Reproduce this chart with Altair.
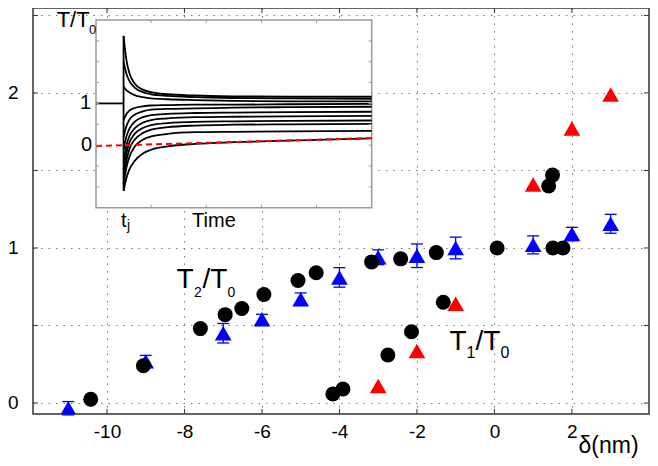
import altair as alt
import pandas as pd

FONT = "Liberation Sans"

# ---------------- main panel data ----------------
circle_x = [-10.42, -9.06, -7.59, -6.95, -6.52, -5.95, -5.07, -4.60, -4.17, -3.91,
            -3.17, -2.75, -2.42, -2.14, -1.50, -1.32, 0.07, 1.40, 1.50, 1.51, 1.77]
circle_y = [0.024, 0.24, 0.48, 0.57, 0.61, 0.70, 0.79, 0.84, 0.058, 0.09,
            0.91, 0.31, 0.93, 0.46, 0.97, 0.65, 1.00, 1.40, 1.47, 1.00, 1.00]

red_x = [-3, -2, -1, 1, 2, 3]
red_y = [0.11, 0.335, 0.64, 1.41, 1.77, 1.99]

blue_x = [-11, -9, -7, -6, -5, -4, -3, -2, -1, 1, 2, 3]
blue_y = [-0.034, 0.27, 0.45, 0.54, 0.67, 0.81, 0.94, 0.95, 1.0, 1.02, 1.09, 1.156]
blue_err = [0.043, 0.037, 0.063, 0.032, 0.04, 0.063, 0.048, 0.076, 0.07, 0.058, 0.043, 0.061]

x_ticks = [-10, -8, -6, -4, -2, 0, 2]
y_ticks = [0, 0.5, 1, 1.5, 2, 2.5]

# ---------------- inset data ----------------
inset_t = [0.5, 0.55, 0.6, 0.7, 0.85, 1.0, 1.3, 1.8, 2.5, 3.5, 5.0]
inset_curves = {
    "U1": [2.62, 2.05, 1.75, 1.48, 1.33, 1.27, 1.22, 1.19, 1.17, 1.16, 1.16],
    "U2": [2.00, 1.72, 1.55, 1.38, 1.27, 1.22, 1.18, 1.15, 1.13, 1.12, 1.11],
    "U3": [1.40, 1.32, 1.27, 1.20, 1.15, 1.12, 1.10, 1.08, 1.06, 1.05, 1.05],
    "L1": [0.60, 0.74, 0.82, 0.89, 0.93, 0.95, 0.96, 0.97, 0.97, 0.98, 0.99],
    "L2": [0.20, 0.45, 0.60, 0.73, 0.81, 0.85, 0.87, 0.88, 0.90, 0.91, 0.92],
    "L3": [-0.10, 0.20, 0.38, 0.56, 0.67, 0.72, 0.75, 0.77, 0.78, 0.79, 0.80],
    "L4": [-0.40, -0.02, 0.20, 0.40, 0.54, 0.60, 0.64, 0.67, 0.68, 0.69, 0.70],
    "L5": [-0.60, -0.20, 0.04, 0.27, 0.41, 0.48, 0.53, 0.56, 0.57, 0.58, 0.59],
    "L6": [-0.80, -0.38, -0.12, 0.13, 0.29, 0.37, 0.43, 0.47, 0.49, 0.50, 0.51],
    "L7": [-0.95, -0.55, -0.30, -0.04, 0.13, 0.21, 0.27, 0.31, 0.32, 0.33, 0.34],
    "L8": [-1.10, -0.80, -0.60, -0.38, -0.20, -0.11, -0.03, 0.03, 0.07, 0.11, 0.16],
}
pre_t = [0.0, 0.5]
pre_v = [1.0, 1.0]
red_line_t = [0.0, 5.0]
red_line_v = [-0.02, 0.17]
inset_x_ticks = [1, 2, 3, 4]
inset_y_ticks = [-1, -0.5, 0, 0.5, 1, 1.5, 2, 2.5]

# ---------------- scales ----------------
XDOM = [-11.91, 3.99]
YDOM = [-0.071, 2.548]
TX = 5 / 38.75   # 5px in x units
TY = 5 / 155.0   # 5px in y units

IXDOM = [0.0, 5.0]
IYDOM = [-1.5, 3.0]
IXRANGE = [63, 338.7]
IYRANGE = [199.7, 12]
ITX = 3 / 55.1
ITY = 3 / 41.7


def xs():
    return alt.Scale(domain=XDOM, nice=False, zero=False)


def ys():
    return alt.Scale(domain=YDOM, nice=False, zero=False)


def ixs():
    return alt.Scale(domain=IXDOM, range=IXRANGE, nice=False, zero=False)


def iys():
    return alt.Scale(domain=IYDOM, range=IYRANGE, nice=False, zero=False)


# ---------------- main layers ----------------
blue_df = pd.DataFrame({
    "x": blue_x, "y": blue_y,
    "lo": [y - e for y, e in zip(blue_y, blue_err)],
    "hi": [y + e for y, e in zip(blue_y, blue_err)],
})
circ_df = pd.DataFrame({"x": circle_x, "y": circle_y})
red_df = pd.DataFrame({"x": red_x, "y": red_y})

x_axis = alt.Axis(values=x_ticks, grid=True, labelExpr="'' + datum.value",
                  gridDash=[1.5, 6], gridColor="#777", gridWidth=1, ticks=False,
                  domain=False, labelFontSize=19, labelFont=FONT, labelColor="black",
                  labelPadding=8, labelFlush=False, title="δ(nm)", titleFont=FONT,
                  titleFontSize=23, titleFontWeight="normal", titleColor="black",
                  titleX=545, titleY=38, titleAlign="left", titleBaseline="alphabetic")
y_axis = alt.Axis(values=y_ticks,
                  labelExpr="datum.value % 1 == 0 ? '' + datum.value : ''",
                  grid=True, gridDash=[1.5, 6], gridColor="#777", gridWidth=1,
                  ticks=False, domain=False, labelFontSize=19, labelFont=FONT,
                  labelColor="black", labelPadding=15, labelFlush=False, title=None)

errbar = alt.Chart(blue_df).mark_rule(color="#0000ff", strokeWidth=1.3).encode(
    x=alt.X("x:Q", scale=xs(), axis=x_axis),
    y=alt.Y("lo:Q", scale=ys(), axis=y_axis),
    y2="hi:Q",
)
caps = alt.Chart(blue_df).transform_fold(["lo", "hi"], as_=["k", "cap"]).mark_tick(
    orient="horizontal", size=12, thickness=1.3, color="#0000ff", opacity=1
).encode(
    x=alt.X("x:Q", scale=xs(), axis=None),
    y=alt.Y("cap:Q", scale=ys(), axis=None),
)
blue_tri = alt.Chart(blue_df).mark_point(
    shape="triangle-up", filled=True, size=280, color="#0000ff", opacity=1,
    strokeWidth=0, clip=True
).encode(x=alt.X("x:Q", scale=xs(), axis=None), y=alt.Y("y:Q", scale=ys(), axis=None))
circles = alt.Chart(circ_df).mark_circle(size=225, color="black", opacity=1).encode(
    x=alt.X("x:Q", scale=xs(), axis=None), y=alt.Y("y:Q", scale=ys(), axis=None))
red_tri = alt.Chart(red_df).mark_point(
    shape="triangle-up", filled=True, size=280, color="#ff0000", opacity=1, strokeWidth=0
).encode(x=alt.X("x:Q", scale=xs(), axis=None), y=alt.Y("y:Q", scale=ys(), axis=None))

# inward ticks on the frame (built from tick values and the domain edges)
TICKC = "#333"
tick_layers = []
for y0, y1 in [(YDOM[0], YDOM[0] + TY), (YDOM[1], YDOM[1] - TY)]:
    df = pd.DataFrame({"v": x_ticks, "a": [y0] * len(x_ticks), "b": [y1] * len(x_ticks)})
    tick_layers.append(alt.Chart(df).mark_rule(color=TICKC, strokeWidth=1).encode(
        x=alt.X("v:Q", scale=xs(), axis=None),
        y=alt.Y("a:Q", scale=ys(), axis=None), y2="b:Q"))
for x0, x1 in [(XDOM[0], XDOM[0] + TX), (XDOM[1], XDOM[1] - TX)]:
    df = pd.DataFrame({"v": y_ticks, "a": [x0] * len(y_ticks), "b": [x1] * len(y_ticks)})
    tick_layers.append(alt.Chart(df).mark_rule(color=TICKC, strokeWidth=1).encode(
        y=alt.Y("v:Q", scale=ys(), axis=None),
        x=alt.X("a:Q", scale=xs(), axis=None), x2="b:Q"))


def text_piece(s, x, y, size, xscale, yscale, align="left", baseline="alphabetic"):
    return alt.Chart(pd.DataFrame({"x": [x], "y": [y], "s": [s]})).mark_text(
        align=align, baseline=baseline, fontSize=size, font=FONT, color="black"
    ).encode(x=alt.X("x:Q", scale=xscale, axis=None),
             y=alt.Y("y:Q", scale=yscale, axis=None), text="s:N")


main_labels = [
    text_piece("T", -8.206, 0.74, 28, xs(), ys()),
    text_piece("2", -7.755, 0.686, 14, xs(), ys()),
    text_piece("/T", -7.535, 0.74, 28, xs(), ys()),
    text_piece("0", -6.890, 0.686, 14, xs(), ys()),
    text_piece("T", -1.161, 0.342, 28, xs(), ys()),
    text_piece("1", -0.723, 0.288, 16, xs(), ys()),
    text_piece("/T", -0.490, 0.342, 28, xs(), ys()),
    text_piece("0", 0.155, 0.288, 16, xs(), ys()),
]

# ---------------- inset layers ----------------
frame_df = pd.DataFrame({"x0": [IXDOM[0]], "x1": [IXDOM[1]], "y0": [IYDOM[0]], "y1": [IYDOM[1]]})
frame = alt.Chart(frame_df).mark_rect(fill="white", stroke="#9a9a9a", strokeWidth=1.5).encode(
    x=alt.X("x0:Q", scale=ixs(), axis=None), x2="x1:Q",
    y=alt.Y("y0:Q", scale=iys(), axis=None), y2="y1:Q")

rows = []
for name, vals in inset_curves.items():
    for t, v in zip(inset_t, vals):
        rows.append({"c": name, "t": t, "v": v})
curves_df = pd.DataFrame(rows)
curves = alt.Chart(curves_df).mark_line(color="black", strokeWidth=1.8, interpolate="monotone").encode(
    x=alt.X("t:Q", scale=ixs(), axis=None), y=alt.Y("v:Q", scale=iys(), axis=None), detail="c:N")

starts = [vals[0] for vals in inset_curves.values()]
jump_df = pd.DataFrame({"t": [inset_t[0]], "lo": [min(starts)], "hi": [max(starts)]})
jump = alt.Chart(jump_df).mark_rule(color="black", strokeWidth=1.8).encode(
    x=alt.X("t:Q", scale=ixs(), axis=None), y=alt.Y("lo:Q", scale=iys(), axis=None), y2="hi:Q")

pre = alt.Chart(pd.DataFrame({"t": pre_t, "v": pre_v})).mark_line(color="black", strokeWidth=1.8).encode(
    x=alt.X("t:Q", scale=ixs(), axis=None), y=alt.Y("v:Q", scale=iys(), axis=None))

red_line = alt.Chart(pd.DataFrame({"t": red_line_t, "v": red_line_v})).mark_line(
    color="#ff0000", strokeWidth=2, strokeDash=[6, 4]).encode(
    x=alt.X("t:Q", scale=ixs(), axis=None), y=alt.Y("v:Q", scale=iys(), axis=None))

ITC = "#9a9a9a"
inset_ticks = []
for y0, y1 in [(IYDOM[0], IYDOM[0] + ITY), (IYDOM[1], IYDOM[1] - ITY)]:
    df = pd.DataFrame({"v": inset_x_ticks, "a": [y0] * len(inset_x_ticks), "b": [y1] * len(inset_x_ticks)})
    inset_ticks.append(alt.Chart(df).mark_rule(color=ITC, strokeWidth=1).encode(
        x=alt.X("v:Q", scale=ixs(), axis=None),
        y=alt.Y("a:Q", scale=iys(), axis=None), y2="b:Q"))
for x0, x1 in [(IXDOM[0], IXDOM[0] + ITX), (IXDOM[1], IXDOM[1] - ITX)]:
    df = pd.DataFrame({"v": inset_y_ticks, "a": [x0] * len(inset_y_ticks), "b": [x1] * len(inset_y_ticks)})
    inset_ticks.append(alt.Chart(df).mark_rule(color=ITC, strokeWidth=1).encode(
        y=alt.Y("v:Q", scale=iys(), axis=None),
        x=alt.X("a:Q", scale=ixs(), axis=None), x2="b:Q"))

inset_labels = [
    text_piece("T/T", -0.713, 2.837, 22, ixs(), iys()),
    text_piece("0", -0.127, 2.662, 13, ixs(), iys()),
    text_piece("1", -0.09, 1.0, 20, ixs(), iys(), align="right", baseline="middle"),
    text_piece("0", -0.07, 0.0, 20, ixs(), iys(), align="right", baseline="middle"),
    text_piece("t", 0.505, -1.96, 20, ixs(), iys(), align="center"),
    text_piece("j", 0.563, -2.04, 14, ixs(), iys()),
    text_piece("Time", 1.742, -1.96, 20, ixs(), iys()),
]

layers = [errbar, caps, blue_tri, circles, red_tri, *tick_layers, *main_labels,
          frame, curves, jump, pre, red_line, *inset_ticks, *inset_labels]

chart = alt.layer(*layers).resolve_scale(x="independent", y="independent").properties(
    width=616, height=406,
    autosize=alt.AutoSizeParams(type="none"),
    padding={"left": 25, "top": 0, "right": 1, "bottom": 44},
).configure_view(stroke="#333", strokeWidth=1.5)

chart.save("out.html", embed_options={"renderer": "svg", "actions": False})
